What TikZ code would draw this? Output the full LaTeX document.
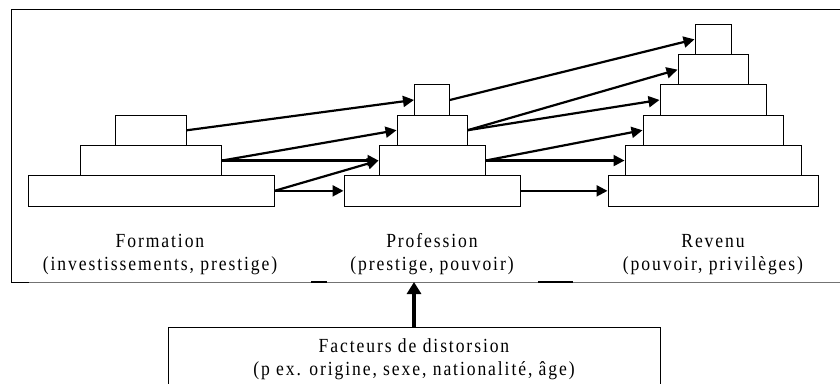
\documentclass[tikz,border=0pt]{standalone}
\usepackage{fontspec}
\setmainfont{Liberation Serif}[LetterSpace=9.5, FakeStretch=0.88]
\usetikzlibrary{arrows.meta}

\begin{document}
\begin{tikzpicture}[x=1pt,y=-1pt,
  stufe/.style={draw, line width=1pt, fill=white, inner sep=0pt, minimum height=30.3},
  pfeil/.style={-{Triangle[length=11pt,width=11pt]}, line width=2.2pt},
  dickpfeil/.style={-{Triangle[length=12pt,width=14pt]}, line width=4.2pt},
  lbl/.style={align=center, inner sep=0pt, font={\fontsize{20}{23}\selectfont}}]
\useasboundingbox (0,0) rectangle (840,383);
\clip (0,0) rectangle (840,383);
\draw[line width=1pt] (850,9) -- (11,9) -- (11,282) -- (29,282);
\draw[black!55, line width=1pt] (29,282) -- (850,282);
\draw[line width=1.2pt] (311,282) -- (327,282);
\draw[line width=1.2pt] (538,282) -- (573,282);
\node[stufe, minimum width=246] (form1) at (151,190.85) {};
\node[stufe, minimum width=141] (form2) at (151,160.55) {};
\node[stufe, minimum width=71] (form3) at (151,130.25) {};
\node[stufe, minimum width=176] (prof1) at (432,190.85) {};
\node[stufe, minimum width=106] (prof2) at (432,160.55) {};
\node[stufe, minimum width=70] (prof3) at (432,130.25) {};
\node[stufe, minimum width=35] (prof4) at (432,99.95) {};
\node[stufe, minimum width=210] (rev1) at (713,190.85) {};
\node[stufe, minimum width=176] (rev2) at (713,160.55) {};
\node[stufe, minimum width=140] (rev3) at (713,130.25) {};
\node[stufe, minimum width=106] (rev4) at (713,99.95) {};
\node[stufe, minimum width=70] (rev5) at (713,69.65) {};
\node[stufe, minimum width=36] (rev6) at (713,39.35) {};
\draw[pfeil] (form3.east) -- (prof4.west);
\draw[pfeil] (form2.east) -- (prof3.west);
\draw[pfeil] (form2.east) -- (prof2.west);
\draw[pfeil] (form1.east) -- (prof2.west);
\draw[pfeil] (form1.east) -- (prof1.west);
\draw[pfeil] (prof4.east) -- (rev6.west);
\draw[pfeil] (prof3.east) -- (rev5.west);
\draw[pfeil] (prof3.east) -- (rev4.west);
\draw[pfeil] (prof2.east) -- (rev3.west);
\draw[pfeil] (prof2.east) -- (rev2.west);
\draw[pfeil] (prof1.east) -- (rev1.west);
\node[lbl, anchor=base] (formLbl) at (160,270) {Formation\\(investissements, prestige)};
\node[lbl, anchor=base] (profLbl) at (432,270) {Profession\\(prestige, pouvoir)};
\node[lbl, anchor=base] (revLbl) at (713,270) {Revenu\\(pouvoir, privilèges)};
\node[lbl, draw, line width=1pt, minimum width=492, minimum height=64, anchor=north] (factBox) at (414,327) {Facteurs de distorsion\\(p ex. origine, sexe, nationalité, âge)};
\coordinate (frameHit) at (414,282);
\draw[dickpfeil] (factBox.north) -- (frameHit);
\end{tikzpicture}
\end{document}
